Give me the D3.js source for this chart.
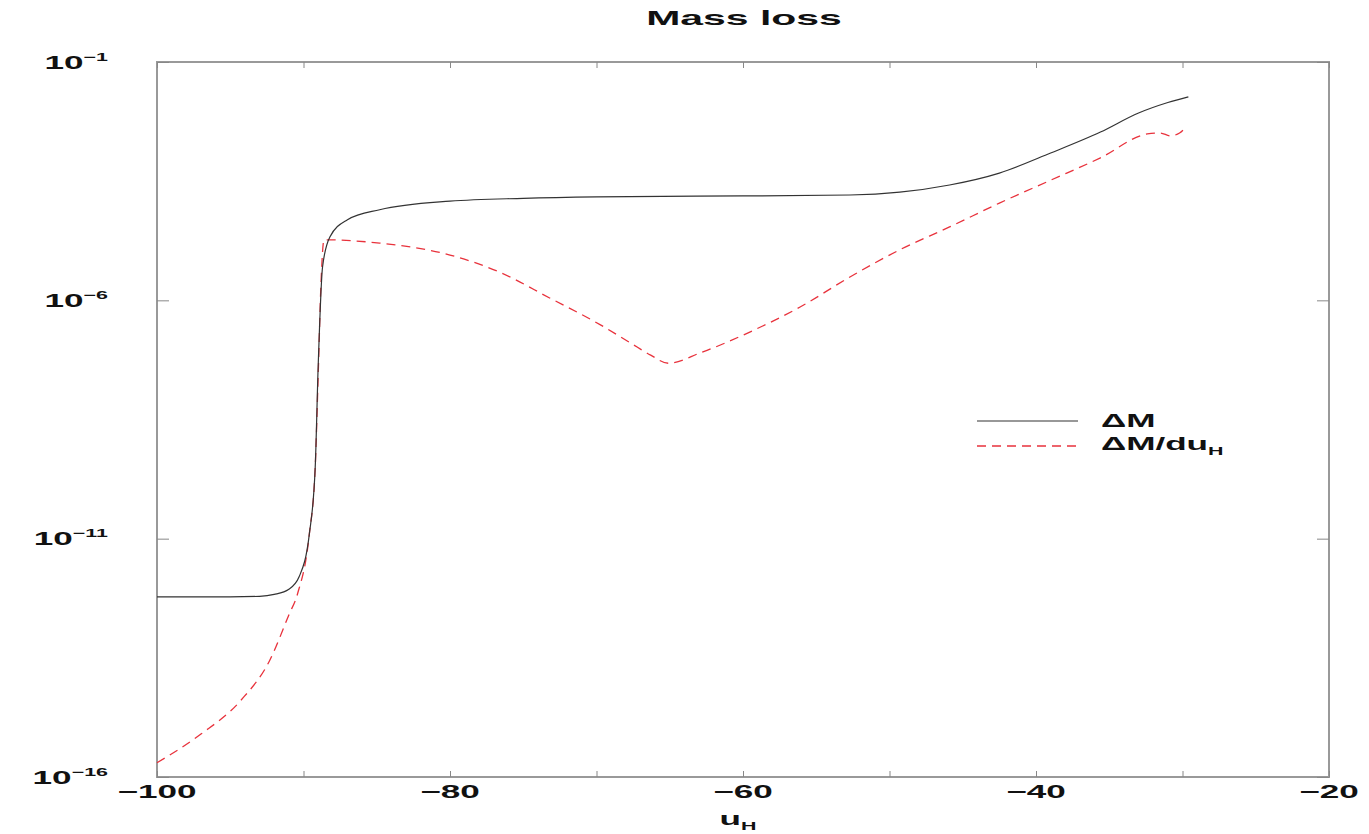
<!DOCTYPE html>
<html>
<head>
	<meta charset="utf-8">
	<title>Mass loss</title>
	<script src="https://cdn.jsdelivr.net/npm/d3@7/dist/d3.min.js"></script>
	<style>
		body { margin: 0; background: #fff; }
		text { font-family: "Liberation Sans", Arial, sans-serif; fill: #111; font-weight: bold; }
	</style>
</head>
<body>
<script>

// u_H positions and log10 values
var uDM = [-100, -95, -93, -92, -91, -90.3, -89.6, -89.2, -89.0, -88.7, -88.2, -87.0, -84.8,
	-80, -75, -70, -60, -52.7, -49.3, -45.9, -42.5, -39.0, -35.6, -33, -31, -29.6];
var logDM = [-12.22, -12.22, -12.21, -12.17, -12.06, -11.8, -10.9, -9.5, -7.4, -5.3, -4.67, -4.31, -4.10,
	-3.92, -3.86, -3.83, -3.81, -3.79, -3.73, -3.58, -3.33, -2.91, -2.47, -2.07, -1.85, -1.73];

var uRate = [-100, -97, -94.3, -92.3, -91, -90.4, -89.6, -89.2, -89.0, -88.8, -88.6, -84.8,
	-80, -76.6, -73.2, -69.7, -67.7, -66.3, -65.1, -62.9, -59.5, -56.1, -52.7, -49.3,
	-45.9, -42.5, -39.0, -35.6, -32.4, -31.5, -30.85, -30.2, -29.8];
var logRate = [-15.7, -15.1, -14.4, -13.55, -12.6, -12.15, -10.9, -9.5, -7.6, -5.6, -4.73, -4.80,
	-5.05, -5.41, -5.95, -6.52, -6.89, -7.15, -7.32, -7.10, -6.66, -6.14, -5.51, -4.94,
	-4.46, -3.96, -3.48, -3.01, -2.51, -2.49, -2.55, -2.49, -2.38];

var xTicks = [-100, -90, -80, -70, -60, -50, -40, -30, -20];
var xLabels = [-100, -80, -60, -40, -20];
var yExps = [-1, -6, -11, -16];

var width = 1369, height = 834;
var mLeft = 157, mRight = 1329, mTop = 62, mBottom = 777;
var stretch = 1.95;   // the text in the picture is wide, stretched sideways

var svg = d3.select("body").append("svg")
	.attr("width", width)
	.attr("height", height);

var x = d3.scaleLinear().domain([-100, -20]).range([mLeft, mRight]);
var y = d3.scaleLog().domain([1e-16, 1e-1]).range([mBottom, mTop]);

function wideText(px, py, size, anchor) {
	return svg.append("text")
		.attr("transform", "translate(" + px + "," + py + ") scale(" + stretch + ",1)")
		.attr("text-anchor", anchor)
		.attr("font-size", size);
}

// frame
svg.append("rect")
	.attr("x", mLeft).attr("y", mTop)
	.attr("width", mRight - mLeft).attr("height", mBottom - mTop)
	.attr("fill", "none").attr("stroke", "#999").attr("stroke-width", 2);

// ticks on all four sides, pointing inwards
var yTickVals = yExps.map(function(e) { return Math.pow(10, e); });
var gxb = svg.append("g").attr("transform", "translate(0," + mBottom + ")")
	.call(d3.axisBottom(x).tickValues(xTicks).tickSizeInner(-6).tickSizeOuter(0).tickFormat(""));
var gxt = svg.append("g").attr("transform", "translate(0," + mTop + ")")
	.call(d3.axisTop(x).tickValues(xTicks).tickSizeInner(-6).tickSizeOuter(0).tickFormat(""));
var gyl = svg.append("g").attr("transform", "translate(" + mLeft + ",0)")
	.call(d3.axisLeft(y).tickValues(yTickVals).tickSizeInner(-12).tickSizeOuter(0).tickFormat(""));
var gyr = svg.append("g").attr("transform", "translate(" + mRight + ",0)")
	.call(d3.axisRight(y).tickValues(yTickVals).tickSizeInner(-12).tickSizeOuter(0).tickFormat(""));
[gxb, gxt, gyl, gyr].forEach(function(g) {
	g.select(".domain").remove();
	g.selectAll(".tick line").attr("stroke", "#888");
});

// x tick labels with a long minus
xLabels.forEach(function(d) {
	wideText(x(d), 798, 18, "middle").text("\u2212" + Math.abs(d));
});

// y tick labels 10^n
yExps.forEach(function(e) {
	var t = wideText(108, y(Math.pow(10, e)) + 6.5, 18, "end");
	t.append("tspan").text("10");
	t.append("tspan").attr("dy", -8).attr("font-size", 11).text("\u2212" + Math.abs(e));
});

// title and axis label
wideText(744, 25, 21, "middle").text("Mass loss");
var xl = wideText(738, 825, 18, "middle");
xl.append("tspan").text("u");
xl.append("tspan").attr("dy", 5).attr("font-size", 11).text("H");

var line = d3.line()
	.x(function(d) { return x(d[0]); })
	.y(function(d) { return y(Math.pow(10, d[1])); })
	.curve(d3.curveMonotoneX);

svg.append("path")
	.datum(d3.zip(uRate, logRate))
	.attr("d", line)
	.attr("fill", "none")
	.attr("stroke", "#e8323c")
	.attr("stroke-width", 1.3)
	.attr("stroke-dasharray", "9,6");

svg.append("path")
	.datum(d3.zip(uDM, logDM))
	.attr("d", line)
	.attr("fill", "none")
	.attr("stroke", "#333")
	.attr("stroke-width", 1.2);

// legend
svg.append("line").attr("x1", 977).attr("x2", 1078).attr("y1", 421).attr("y2", 421)
	.attr("stroke", "#333").attr("stroke-width", 1.2);
svg.append("line").attr("x1", 977).attr("x2", 1078).attr("y1", 446).attr("y2", 446)
	.attr("stroke", "#e8323c").attr("stroke-width", 1.3).attr("stroke-dasharray", "9,6");
wideText(1101, 427, 18, "start").text("\u0394M");
var l2 = wideText(1101, 450, 18, "start");
l2.append("tspan").text("\u0394M/du");
l2.append("tspan").attr("dy", 5).attr("font-size", 11).text("H");

</script>
</body>
</html>
